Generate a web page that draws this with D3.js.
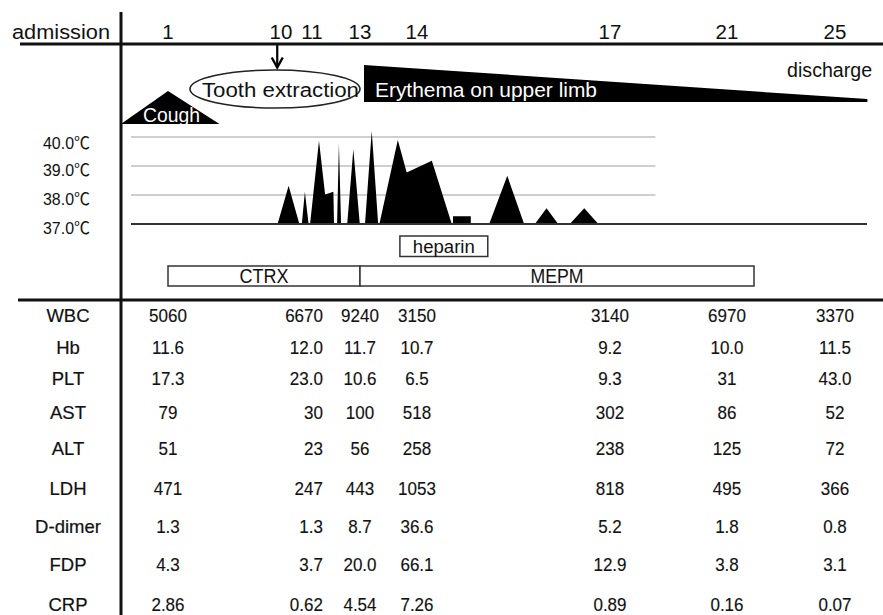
<!DOCTYPE html>
<html>
<head>
<meta charset="utf-8">
<script src="https://cdn.jsdelivr.net/npm/d3@7"></script>
<style>
  html, body { margin: 0; padding: 0; background: #fff; }
  svg { display: block; font-family: "Liberation Sans", Arial, "Noto Sans CJK JP", sans-serif; }
</style>
</head>
<body>
<svg id="chart" width="883" height="615"></svg>
<script>
// ---------------- DATA ----------------
const headerDays = [1, 10, 11, 13, 14, 17, 21, 25];
const headerLabels = ["1", "10", "11", "13", "14", "17", "21", "25"];

// events (day units on the header timeline)
const coughSpan = [-2.75, 1, 5.1];          // start, peak, end
const toothSpan = [2.75, 13.0];             // ellipse extent
const extractionDay = 9.7;                  // arrow
const erythemaSpan = [13.07, 26.2];         // tapering band
const dischargeDay = 24.8;
const heparinSpan = [13.7, 15.1];
const ctrxSpan = [1, 13];
const mepmSpan = [13, 22];

// temperature chart (time units of the fever panel, °C)
const tempTicks = [40, 39, 38, 37];
const tempTickLabels = ["40.0℃", "39.0℃", "38.0℃", "37.0℃"];
const feverTime = [4.78, 5.14, 5.49, 5.57, 5.67, 5.79, 5.84, 6.13, 6.33, 6.60, 6.62,
  6.72, 6.78, 6.85, 7.05, 7.25, 7.46, 7.63, 7.85, 8.06, 8.10, 8.70, 8.99, 9.81, 10.46,
  10.50, 10.50, 11.08, 11.08, 11.68, 12.27, 12.82, 13.17, 13.55, 13.93, 14.31, 14.78, 15.24];
const feverTemp = [37, 38.32, 37, 37, 38.11, 37, 37, 39.87, 38.02, 38.11, 37,
  37, 39.78, 37, 37, 39.58, 37, 37, 40.21, 37, 37, 39.90, 38.78, 39.18, 37,
  37, 37.27, 37.27, 37, 37, 38.66, 37, 37, 37.54, 37, 37, 37.54, 37];

// lab table
const labDays = [1, 11, 13, 14, 17, 21, 25];
const labNames = ["WBC", "Hb", "PLT", "AST", "ALT", "LDH", "D-dimer", "FDP", "CRP"];
const wbc    = ["5060", "6670", "9240", "3150", "3140", "6970", "3370"];
const hb     = ["11.6", "12.0", "11.7", "10.7", "9.2", "10.0", "11.5"];
const plt    = ["17.3", "23.0", "10.6", "6.5", "9.3", "31", "43.0"];
const ast    = ["79", "30", "100", "518", "302", "86", "52"];
const alt    = ["51", "23", "56", "258", "238", "125", "72"];
const ldh    = ["471", "247", "443", "1053", "818", "495", "366"];
const dDimer = ["1.3", "1.3", "8.7", "36.6", "5.2", "1.8", "0.8"];
const fdp    = ["4.3", "3.7", "20.0", "66.1", "12.9", "3.8", "3.1"];
const crp    = ["2.86", "0.62", "4.54", "7.26", "0.89", "0.16", "0.07"];
const labRows = [wbc, hb, plt, ast, alt, ldh, dDimer, fdp, crp];

// ---------------- SCALES ----------------
const svg = d3.select("#chart");
const dayX = d3.scaleLinear().domain(headerDays).range([168, 281, 312, 360, 417, 610, 727, 835]);
const feverX = d3.scaleLinear().domain([0, 24]).range([131, 867]);
const tempY = d3.scaleLinear().domain([37, 40]).range([224, 137]);
const rowY = d3.scaleLinear().domain(d3.range(labNames.length))
  .range([315, 347, 378, 412, 448, 488, 526, 564, 604]);

const ink = "#111";

// squeeze text horizontally (the source typeface is narrow and tall)
function squeeze(sel, k) {
  sel.each(function () {
    const w = this.getComputedTextLength();
    d3.select(this).attr("textLength", w * k).attr("lengthAdjust", "spacingAndGlyphs");
  });
}

// ---------------- HEADER ----------------
svg.append("text").attr("x", 12).attr("y", 39).attr("font-size", 20.5)
  .attr("textLength", 98).attr("lengthAdjust", "spacingAndGlyphs")
  .attr("fill", ink).text("admission");

svg.selectAll("text.day").data(headerDays).join("text")
  .attr("class", "day")
  .attr("x", d => dayX(d)).attr("y", 39)
  .attr("text-anchor", "middle").attr("font-size", 20.5).attr("fill", ink)
  .text((d, i) => headerLabels[i]);

// ---------------- EVENTS ----------------
const coughBase = 124, coughTop = 91;
svg.append("path")
  .attr("d", d3.line()([[dayX(coughSpan[0]), coughBase], [dayX(coughSpan[1]), coughTop],
    [dayX(coughSpan[2]), coughBase]]) + "Z")
  .attr("fill", "#000");
svg.append("text").attr("x", 143).attr("y", 122).attr("font-size", 20)
  .attr("textLength", 57).attr("lengthAdjust", "spacingAndGlyphs")
  .attr("fill", "#fff").text("Cough");

const eryTop = 65, eryTip = 99, eryBottom = 102;
svg.append("path")
  .attr("d", d3.line()([[dayX(erythemaSpan[0]), eryTop], [dayX(erythemaSpan[1]), eryTip],
    [dayX(erythemaSpan[1]), eryBottom], [dayX(erythemaSpan[0]), eryBottom]]) + "Z")
  .attr("fill", "#000");
svg.append("text").attr("x", dayX(erythemaSpan[0]) + 11).attr("y", 96.5).attr("font-size", 20)
  .attr("textLength", 222).attr("lengthAdjust", "spacingAndGlyphs")
  .attr("fill", "#fff").text("Erythema on upper limb");

const tx0 = dayX(toothSpan[0]), tx1 = dayX(toothSpan[1]);
svg.append("ellipse").attr("cx", (tx0 + tx1) / 2).attr("cy", 89)
  .attr("rx", (tx1 - tx0) / 2).attr("ry", 19)
  .attr("fill", "none").attr("stroke", "#222").attr("stroke-width", 1.6);
svg.append("text").attr("x", 202).attr("y", 97).attr("font-size", 20)
  .attr("textLength", 157).attr("lengthAdjust", "spacingAndGlyphs")
  .attr("fill", ink).text("Tooth extraction");

const ax = dayX(extractionDay);
svg.append("line").attr("x1", ax).attr("x2", ax).attr("y1", 45).attr("y2", 67)
  .attr("stroke", "#000").attr("stroke-width", 2.2);
svg.append("path").attr("d", `M${ax - 5.5},57.5 L${ax},67.5 L${ax + 5.5},57.5`)
  .attr("fill", "none").attr("stroke", "#000").attr("stroke-width", 2.4);

svg.append("text").attr("x", dayX(dischargeDay)).attr("y", 77).attr("font-size", 20)
  .attr("text-anchor", "middle").attr("textLength", 85).attr("lengthAdjust", "spacingAndGlyphs")
  .attr("fill", ink).text("discharge");

// ---------------- TEMPERATURE ----------------
svg.selectAll("line.grid").data(tempTicks.filter(t => t > 37)).join("line")
  .attr("class", "grid")
  .attr("x1", feverX(0)).attr("x2", feverX(17.1))
  .attr("y1", d => tempY(d)).attr("y2", d => tempY(d))
  .attr("stroke", "#cfcfcf").attr("stroke-width", 2);

const feverPts = feverTime.map((t, i) => [t, feverTemp[i]]);
svg.append("path").datum(feverPts)
  .attr("d", d3.area().x(d => feverX(d[0])).y0(tempY(37)).y1(d => tempY(d[1])))
  .attr("fill", "#000");

svg.append("line").attr("x1", feverX(0)).attr("x2", feverX(24))
  .attr("y1", tempY(37)).attr("y2", tempY(37))
  .attr("stroke", "#333").attr("stroke-width", 2);

const labelOffset = [6, 4, 4, 4];
svg.selectAll("text.temp").data(tempTicks).join("text")
  .attr("class", "temp")
  .attr("x", 43).attr("y", (d, i) => tempY(d) + labelOffset[i]).attr("dy", "0.36em")
  .attr("font-size", 16.5).attr("fill", ink)
  .attr("textLength", 47).attr("lengthAdjust", "spacingAndGlyphs")
  .text((d, i) => tempTickLabels[i]);

// ---------------- DRUG BARS ----------------
function drugBox(span, y, h, label, fs, tl) {
  svg.append("rect").attr("x", dayX(span[0])).attr("y", y)
    .attr("width", dayX(span[1]) - dayX(span[0])).attr("height", h)
    .attr("fill", "#fff").attr("stroke", "#333").attr("stroke-width", 1.5);
  svg.append("text").attr("x", (dayX(span[0]) + dayX(span[1])) / 2).attr("y", y + h / 2)
    .attr("dy", "0.36em").attr("text-anchor", "middle").attr("font-size", fs)
    .attr("textLength", tl).attr("lengthAdjust", "spacingAndGlyphs")
    .attr("fill", ink).text(label);
}
drugBox(heparinSpan, 236, 20.5, "heparin", 17.5, 62);
drugBox(ctrxSpan, 266, 20, "CTRX", 19.5, 49);
drugBox(mepmSpan, 266, 20, "MEPM", 19.5, 53);

// ---------------- TABLE ----------------
svg.selectAll("text.lab").data(labNames).join("text")
  .attr("class", "lab")
  .attr("x", 68).attr("y", (d, i) => rowY(i)).attr("dy", "0.36em")
  .attr("text-anchor", "middle").attr("font-size", 18.5).attr("fill", ink)
  .attr("stroke", ink).attr("stroke-width", 0.2)
  .text(d => d);

labRows.forEach((row, r) => {
  svg.selectAll(null).data(row).join("text")
    .attr("class", "val")
    .attr("x", (d, c) => labDays[c] === 11 ? dayX(11) + 11 : dayX(labDays[c]))
    .attr("y", rowY(r)).attr("dy", "0.36em")
    .attr("text-anchor", (d, c) => labDays[c] === 11 ? "end" : "middle")
    .attr("font-size", 18.5).attr("fill", ink)
    .attr("stroke", ink).attr("stroke-width", 0.15)
    .text(d => d);
});
squeeze(svg.selectAll("text.val"), 0.92);

// ---------------- FRAME LINES ----------------
svg.append("line").attr("x1", 20).attr("x2", 883).attr("y1", 44).attr("y2", 44)
  .attr("stroke", "#111").attr("stroke-width", 3);
svg.append("line").attr("x1", 18).attr("x2", 883).attr("y1", 300).attr("y2", 300)
  .attr("stroke", "#111").attr("stroke-width", 3);
svg.append("line").attr("x1", 121).attr("x2", 121).attr("y1", 12).attr("y2", 615)
  .attr("stroke", "#111").attr("stroke-width", 3);
</script>
</body>
</html>
